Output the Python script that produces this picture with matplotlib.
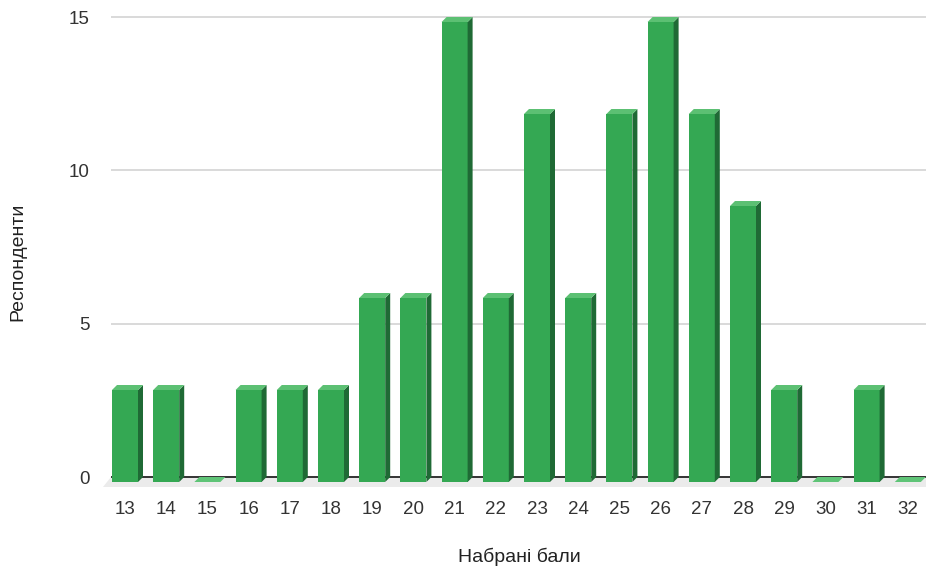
import matplotlib.pyplot as plt
from matplotlib.patches import Polygon

plt.rcParams['font.family'] = ['Liberation Sans', 'DejaVu Sans']

scores = ['13', '14', '15', '16', '17', '18', '19', '20', '21', '22',
          '23', '24', '25', '26', '27', '28', '29', '30', '31', '32']
respondents = [3, 3, 0, 3, 3, 3, 6, 6, 15, 6, 12, 6, 12, 15, 12, 9, 3, 0, 3, 0]
y_ticks = [0, 5, 10, 15]

front_col = '#34a853'
side_col = '#1f6a35'
top_col = '#5cc073'
zero_col = '#5fc477'

W, H = 926, 572
fig = plt.figure(figsize=(W / 100, H / 100), dpi=100)
# axes box in pixels: left 95, right 926, top 10, bottom 490
ax = fig.add_axes([95 / W, (H - 490) / H, (926 - 95) / W, (490 - 10) / H])

px_x = 41.2            # pixels per category
px_y = 460 / 15        # pixels per unit
x0_px = 125            # centre of first bar front
xmin = (95 - x0_px) / px_x
xmax = (926 - x0_px) / px_x
ax.set_xlim(xmin, xmax)
ax.set_ylim(-13 / px_y, 15 + 7 / px_y)

hw = 13 / px_x         # half front width
ddx = 5 / px_x         # depth offset x
ddy = 5 / px_y         # depth offset y

# floor
fdx, fdy = 8 / px_x, 10 / px_y
grid_left = (111 - x0_px) / px_x
ax.add_patch(Polygon([(grid_left - fdx, -fdy), (grid_left, 0), (xmax + 1, 0), (xmax + 1 - fdx, -fdy)],
                     closed=True, facecolor='#ebebeb', edgecolor='none', zorder=1))

# gridlines
for t in y_ticks[1:]:
    ax.hlines(t, grid_left, xmax, color='#d9d9d9', lw=1.4, zorder=0.5)
ax.hlines(0, grid_left, xmax, color='#333333', lw=1.4, zorder=1.5)

for i, v in enumerate(respondents):
    l, r = i - hw, i + hw
    b = -ddy
    if v == 0:
        ax.add_patch(Polygon([(l, b), (l + ddx, 0), (r + ddx, 0), (r, b)],
                             closed=True, facecolor=zero_col, edgecolor='none', zorder=3))
        continue
    ax.bar(i, v, width=2 * hw, bottom=b, color=front_col, zorder=3)
    ax.add_patch(Polygon([(r, b), (r + ddx, 0), (r + ddx, v), (r, v - ddy)],
                         closed=True, facecolor=side_col, edgecolor='none', zorder=3))
    ax.add_patch(Polygon([(l, v - ddy), (l + ddx, v), (r + ddx, v), (r, v - ddy)],
                         closed=True, facecolor=top_col, edgecolor='none', zorder=3))

ax.set_xticks(range(len(scores)))
ax.set_xticklabels(scores)
ax.set_yticks(y_ticks)
ax.tick_params(axis='both', length=0, labelsize=13.5, labelcolor='#333333')
ax.tick_params(axis='x', pad=8)
ax.tick_params(axis='y', pad=4)
for s in ax.spines.values():
    s.set_visible(False)

fig.text(519 / W, 1 - 557 / H, 'Набрані бали', ha='center', va='center', fontsize=14, color='#222222')
fig.text(18 / W, 1 - 262 / H, 'Респонденти', ha='center', va='center', rotation=90, fontsize=14, color='#222222')

fig.savefig('out.png', dpi=100)
